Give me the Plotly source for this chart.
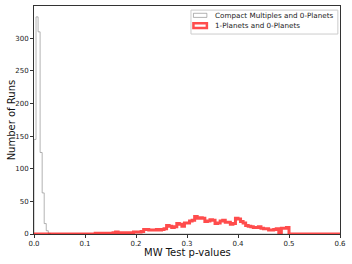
import numpy as np
import plotly.graph_objects as go

# Gray histogram (Compact Multiples and 0-Planets)
gray_edges = [0.0, 0.004, 0.008, 0.012, 0.016, 0.020, 0.024, 0.028, 0.032, 0.5]
gray_counts = [145, 333, 310, 125, 63, 16, 5, 1, 0]

# Red histogram (1-Planets and 0-Planets), bin width 0.005 from 0.0 to 0.6
red_bin_width = 0.005
red_counts = [
    # 0.000 - 0.095
    0, 0, 0, 0, 0, 0, 0, 0, 0, 0, 0, 0, 0, 0, 0, 0, 0, 0, 0, 0,
    # 0.100 - 0.195
    0, 0, 0, 0, 1, 0, 1, 1, 1, 1, 1, 2, 3, 2, 2, 1, 2, 2, 2, 3,
    # 0.200 - 0.295
    3, 3, 4, 7, 7, 6, 6, 6, 7, 6, 7, 8, 13, 12, 10, 11, 16, 15, 12, 17,
    # 0.300 - 0.395
    17, 20, 21, 27, 24, 25, 24, 19, 20, 22, 21, 16, 17, 20, 21, 18, 18, 15, 16, 24,
    # 0.400 - 0.495
    23, 19, 17, 13, 12, 11, 10, 10, 11, 9, 8, 8, 6, 6, 7, 8, 0, 9, 9, 10,
    # 0.500 - 0.595
    0, 0, 0, 0, 0, 0, 0, 0, 0, 0, 0, 0, 0, 0, 0, 0, 0, 0, 0, 0,
]

series_names = ["Compact Multiples and 0-Planets", "1-Planets and 0-Planets"]
x_title = "MW Test p-values"
y_title = "Number of Runs"
x_ticks = [0.0, 0.1, 0.2, 0.3, 0.4, 0.5, 0.6]
y_ticks = [0, 50, 100, 150, 200, 250, 300]


def step_xy(edges, counts):
    xs = [edges[0]] + list(edges[:-1]) + [edges[-1], edges[-1]]
    ys = [0] + list(counts) + [counts[-1], 0]
    return xs, ys


red_edges = list(np.round(np.arange(len(red_counts) + 1) * red_bin_width, 6))

gx, gy = step_xy(gray_edges, gray_counts)
rx, ry = step_xy(red_edges, red_counts)

gray_col = "rgba(128,128,128,0.6)"
red_col = "rgba(255,0,0,0.7)"

fig = go.Figure()
fig.add_trace(go.Scatter(x=gx, y=gy, mode="lines", name=series_names[0],
                         line=dict(color=gray_col, width=1, shape="hv"),
                         showlegend=False, hoverinfo="skip"))
fig.add_trace(go.Scatter(x=rx, y=ry, mode="lines", name=series_names[1],
                         line=dict(color=red_col, width=3, shape="hv"),
                         showlegend=False, hoverinfo="skip"))

# Legend drawn in matplotlib style (frame, outlined patches, labels)
legend_frame = dict(x0=0.513, x1=0.993, y0=0.877, y1=0.982)
patch_x = (0.521, 0.565)
rows = [
    dict(y0=0.950, y1=0.968, ty=0.9588, color=gray_col, width=1),
    dict(y0=0.903, y1=0.924, ty=0.9125, color=red_col, width=2.5),
]
fig.add_shape(type="rect", xref="paper", yref="paper", layer="above",
              fillcolor="rgba(255,255,255,0.85)", line=dict(color="#cccccc", width=1),
              **legend_frame)
for name, r in zip(series_names, rows):
    fig.add_shape(type="rect", xref="paper", yref="paper", layer="above",
                  x0=patch_x[0], x1=patch_x[1], y0=r["y0"], y1=r["y1"],
                  fillcolor="rgba(0,0,0,0)", line=dict(color=r["color"], width=r["width"]))
    fig.add_annotation(xref="paper", yref="paper", x=0.584, y=r["ty"], text=name,
                       showarrow=False, xanchor="left", yanchor="middle",
                       font=dict(family="DejaVu Sans", size=7.2, color="#222222"))

# Axis titles
fig.add_annotation(xref="paper", yref="paper", x=0.5, y=-0.083, text=x_title,
                   showarrow=False, xanchor="center", yanchor="middle",
                   font=dict(family="DejaVu Sans", size=10, color="#111111"))
fig.add_annotation(xref="paper", yref="paper", x=-0.074, y=0.5, text=y_title,
                   showarrow=False, xanchor="center", yanchor="middle", textangle=-90,
                   font=dict(family="DejaVu Sans", size=10, color="#111111"))

axis_common = dict(showline=True, linecolor="#333333", linewidth=1, mirror=True,
                   ticks="outside", ticklen=3, tickwidth=1, tickcolor="#333333",
                   showgrid=False, zeroline=False,
                   tickfont=dict(family="DejaVu Sans", size=7, color="#222222"))

fig.update_layout(
    width=352, height=264,
    margin=dict(l=34, r=12, t=6, b=30),
    paper_bgcolor="white", plot_bgcolor="white",
    font=dict(family="DejaVu Sans", color="#222222"),
    xaxis=dict(range=[0, 0.6], tickvals=x_ticks, ticktext=[f"{v:.1f}" for v in x_ticks],
               **axis_common),
    yaxis=dict(range=[0, 349.65], tickvals=y_ticks, **axis_common),
    showlegend=False,
)

fig.write_html("out.html", config={"displayModeBar": False},
               post_script="document.body.style.margin='0';")
